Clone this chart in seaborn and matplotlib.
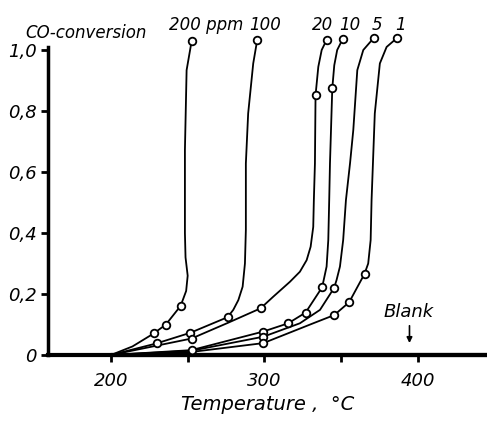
import matplotlib
matplotlib.use("Agg")
import matplotlib.pyplot as plt
import seaborn as sns

# ---------------- data ----------------
curve_labels = ["200 ppm", "100", "20", "10", "5", "1"]

# traced curve paths: temperature (°C) and CO conversion
t_200 = [200, 214, 228, 235.8, 245.4, 249.0, 250.0, 248.6, 248.2, 248.2, 249.3, 252.6]
c_200 = [0, 0.028, 0.071, 0.10, 0.161, 0.21, 0.26, 0.32, 0.40, 0.672, 0.934, 1.03]

t_100 = [200, 229.7, 251.8, 276.0, 279.7, 283.0, 285.8, 287.3, 287.9, 287.9, 289.4, 292.7, 295.3]
c_100 = [0, 0.038, 0.073, 0.124, 0.148, 0.18, 0.224, 0.30, 0.41, 0.628, 0.792, 0.956, 1.033]

t_20 = [200, 252.5, 276.0, 297.5, 305.7, 316.6, 323.1, 327.5, 330.1, 331.8, 332.2, 332.9,
        333.3, 335.1, 337.3, 340.5]
c_20 = [0, 0.054, 0.105, 0.153, 0.191, 0.24, 0.273, 0.311, 0.355, 0.42, 0.508, 0.628,
        0.852, 0.945, 1.0, 1.033]

t_10 = [200, 252.5, 299.3, 315.5, 326.8, 337.6, 340.5, 341.6, 342.2, 342.7, 344.2, 345.5,
        347.4, 350.9]
c_10 = [0, 0.016, 0.077, 0.104, 0.139, 0.222, 0.29, 0.377, 0.508, 0.628, 0.874, 0.95,
        1.0, 1.035]

t_5 = [200, 252.5, 299.3, 323.1, 336.2, 345.4, 347.0, 349.2, 351.3, 353.1, 355.8, 357.9,
       360.5, 364.4, 371.3]
c_5 = [0, 0.014, 0.060, 0.104, 0.148, 0.22, 0.246, 0.29, 0.377, 0.508, 0.63, 0.738,
       0.934, 1.0, 1.04]

t_1 = [200, 252.5, 299.3, 331.8, 345.5, 355.2, 365.2, 367.6, 369.2, 369.8, 371.9, 375.2,
       379.6, 386.5]
c_1 = [0, 0.010, 0.039, 0.104, 0.131, 0.173, 0.266, 0.30, 0.377, 0.508, 0.792, 0.956,
       1.01, 1.04]

# measured points (open circles)
pt_200 = [228, 235.8, 245.4, 252.6]
pc_200 = [0.071, 0.10, 0.161, 1.03]
pt_100 = [229.7, 251.8, 276.0, 295.3]
pc_100 = [0.038, 0.073, 0.124, 1.033]
pt_20 = [252.5, 297.5, 333.3, 340.5]
pc_20 = [0.054, 0.153, 0.852, 1.033]
pt_10 = [252.5, 299.3, 315.5, 326.8, 337.6, 344.2, 350.9]
pc_10 = [0.016, 0.077, 0.104, 0.139, 0.222, 0.874, 1.035]
pt_5 = [299.3, 345.4, 371.3]
pc_5 = [0.060, 0.22, 1.04]
pt_1 = [299.3, 345.5, 355.2, 365.2, 386.5]
pc_1 = [0.039, 0.131, 0.173, 0.266, 1.04]

# blank run (no conversion)
blank_t = [200, 445]
blank_c = [0, 0]

x_ticks = [200, 250, 300, 350, 400]
x_ticklabels = ["200", "", "300", "", "400"]
y_ticks = [0, 0.2, 0.4, 0.6, 0.8, 1.0]
y_ticklabels = ["0", "0,2", "0,4", "0,6", "0,8", "1,0"]

# ---------------- plot ----------------
sns.set_theme(style="ticks")
plt.rcParams["font.family"] = ["DejaVu Sans"]
plt.rcParams["font.style"] = "italic"
plt.rcParams["text.color"] = "black"
plt.rcParams["axes.labelcolor"] = "black"
plt.rcParams["xtick.color"] = "black"
plt.rcParams["ytick.color"] = "black"

fig = plt.figure(figsize=(4.87, 4.25), dpi=100)
ax = fig.add_axes([48 / 487, 0.1647, 1 - 48 / 487, 0.7248])

curves = [(t_200, c_200), (t_100, c_100), (t_20, c_20), (t_10, c_10), (t_5, c_5), (t_1, c_1)]
points = [(pt_200, pc_200), (pt_100, pc_100), (pt_20, pc_20), (pt_10, pc_10), (pt_5, pc_5), (pt_1, pc_1)]

for (t, c) in curves:
    sns.lineplot(x=t, y=c, ax=ax, color="black", lw=1.3, sort=False, estimator=None)
sns.lineplot(x=blank_t, y=blank_c, ax=ax, color="black", lw=3.0, sort=False, estimator=None)
for (t, c) in points:
    sns.scatterplot(x=t, y=c, ax=ax, s=30, facecolor="white", edgecolor="black",
                    linewidth=1.3, zorder=5)

for line in ax.lines:
    line.set_clip_on(False)
    line.set_solid_joinstyle("round")
for coll in ax.collections:
    coll.set_clip_on(False)

ax.set_xlim(159, 445)
ax.set_ylim(0, 1.01)

ax.set_xticks(x_ticks)
ax.set_xticklabels(x_ticklabels, fontsize=13, style="italic", color="black")
ax.set_yticks(y_ticks)
ax.set_yticklabels(y_ticklabels, fontsize=13, style="italic", color="black")
ax.tick_params(axis="x", direction="out", length=5, width=2, colors="black", pad=7)
ax.tick_params(axis="y", direction="out", length=5, width=2, colors="black", pad=3)

for side in ["top", "right"]:
    ax.spines[side].set_visible(False)
ax.spines["left"].set_linewidth(2.5)
ax.spines["bottom"].set_linewidth(3.0)
ax.spines["left"].set_color("black")
ax.spines["bottom"].set_color("black")

ax.set_xlabel("Temperature ,  °C", fontsize=14, style="italic", labelpad=4, color="black")
ax.set_ylabel("")

# annotations
fig.text(25 / 487, 1 - 33 / 425, "CO-conversion", fontsize=12, style="italic",
         ha="left", va="center", color="black")
label_x = [261.9, 300.3, 338.1, 355.7, 373.3, 388.9]
for lab, xx in zip(curve_labels, label_x):
    ax.text(xx, 1.082, lab, fontsize=12, style="italic", ha="center", va="center",
            color="black")

ax.text(394, 0.141, "Blank", fontsize=13, style="italic", ha="center", va="center",
        color="black")
ax.annotate("", xy=(394.5, 0.03), xytext=(394.5, 0.105),
            arrowprops=dict(arrowstyle="-|>", color="black", lw=1.2, mutation_scale=8))

fig.savefig("out.png", dpi=100, facecolor="white")
